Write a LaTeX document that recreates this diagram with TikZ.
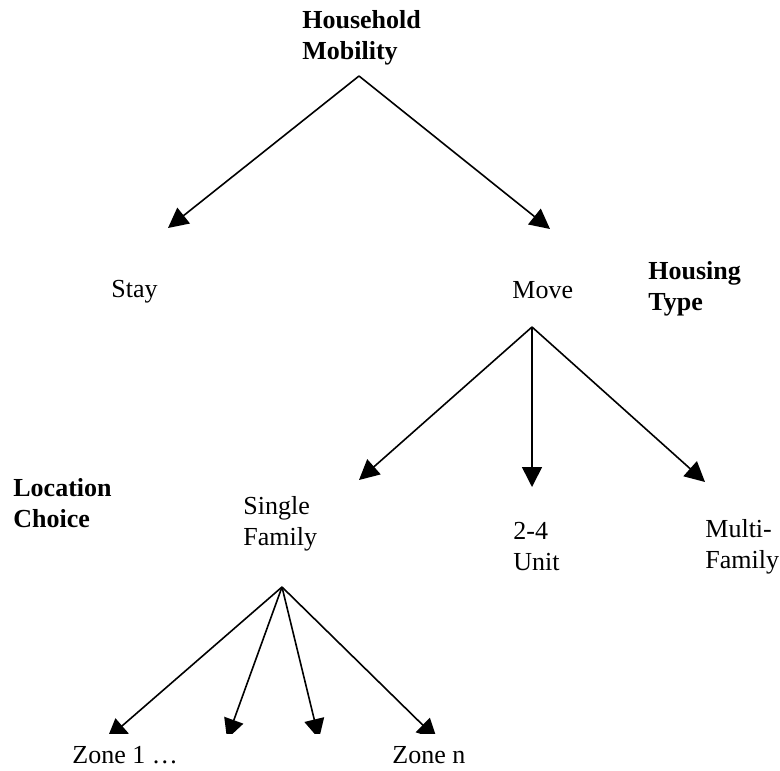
\documentclass[tikz,border=0pt]{standalone}
\usepackage{fontspec}
\setmainfont{Liberation Serif}
\usetikzlibrary{arrows.meta}
\begin{document}
\begin{tikzpicture}[x=0.5pt,y=-0.5pt,
  every node/.style={font=\fontsize{13pt}{15.5pt}\selectfont, inner sep=0pt, anchor=base west, align=left},
  level/.style={font=\fontsize{13pt}{15.5pt}\selectfont\bfseries},
  branch/.style={line width=0.8pt, -{Triangle[length=10pt,width=10pt]}}]
\path[use as bounding box] (0,0) rectangle (780,770);

% labels of the choice levels (positions give the last line's baseline)
\node[level] (mobility) at (302,60) {Household\\Mobility};
\node[level] (housing) at (648,310) {Housing\\Type};
\node[level] (location) at (13,527) {Location\\Choice};

% alternatives
\node (stay) at (111,297) {Stay};
\node (move) at (512,298) {Move};
\node (single) at (243,545) {Single\\Family};
\node (unit) at (513,570) {2-4\\Unit};
\node (multi) at (705,568) {Multi-\\Family};
\node (zone1) at (72,763) {Zone 1 …};
\node (zonen) at (392,763) {Zone n};

% fork points and arrow ends
\coordinate (rootFork) at (359,76);
\coordinate (moveFork) at (532,327);
\coordinate (singleFork) at (282,587);
\coordinate (stayEnd) at (168,228);
\coordinate (moveEnd) at (550,229);
\coordinate (singleEnd) at (359,480);
\coordinate (unitEnd) at (532,487);
\coordinate (multiEnd) at (705,482);
\coordinate (zoneA) at (107,739);
\coordinate (zoneB) at (227,739);
\coordinate (zoneC) at (319,739);
\coordinate (zoneD) at (437,739);

% mobility decision
\draw[branch] (rootFork) -- (stayEnd);
\draw[branch] (rootFork) -- (moveEnd);

% housing type decision
\draw[branch] (moveFork) -- (singleEnd);
\draw[branch] (moveFork) -- (unitEnd);
\draw[branch] (moveFork) -- (multiEnd);

% location decision, heads cut off above the zone row
\begin{scope}
  \clip (0,0) rectangle (780,733);
  \draw[branch] (singleFork) -- (zoneA);
  \draw[branch] (singleFork) -- (zoneB);
  \draw[branch] (singleFork) -- (zoneC);
  \draw[branch] (singleFork) -- (zoneD);
\end{scope}
\end{tikzpicture}
\end{document}
